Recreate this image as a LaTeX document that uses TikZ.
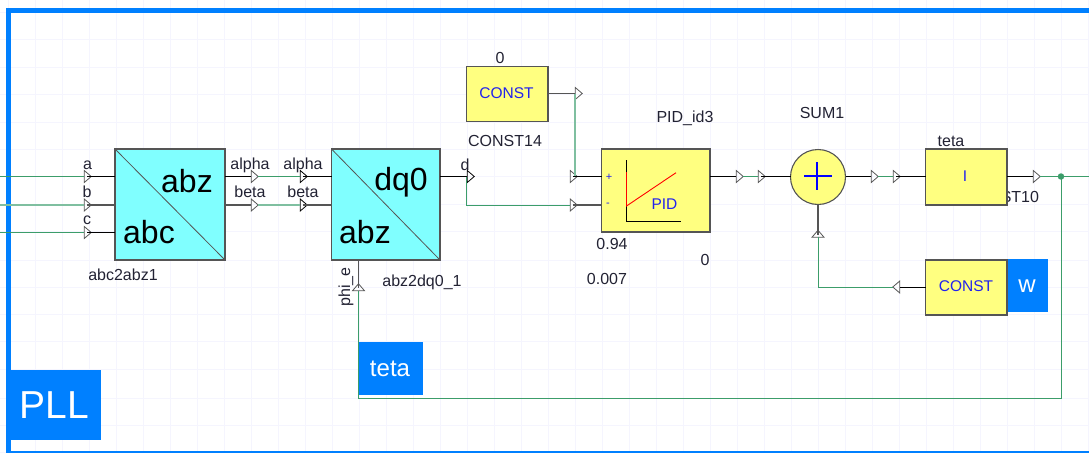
\documentclass[tikz,border=0pt]{standalone}
\usepackage{fontspec}
\setmainfont{Liberation Sans}
\usetikzlibrary{shapes.geometric,calc}
\definecolor{gridc}{HTML}{F5F5FE}
\definecolor{framec}{HTML}{0080FF}
\definecolor{cyanb}{HTML}{80FFFF}
\definecolor{yellowb}{HTML}{FFFF80}
\definecolor{greenw}{HTML}{3C9D6A}
\definecolor{paleg}{HTML}{7FBFA0}
\definecolor{edgec}{HTML}{555555}
\definecolor{inkc}{HTML}{222233}
\definecolor{blueink}{HTML}{2222EE}
\newcommand{\fs}[1]{\fontsize{#1}{#1}\selectfont}
\tikzset{
  every node/.style={inner sep=0pt,outer sep=0pt},
  blockc/.style={draw=edgec,line width=1.1pt,fill=cyanb,anchor=north west},
  blocky/.style={draw=edgec,line width=1.1pt,fill=yellowb,anchor=north west},
  flag/.style={fill=framec,text=white,anchor=north west},
  lbl/.style={text=inkc,font=\fs{16}},
  big/.style={text=black,font=\fs{32}},
  bluetxt/.style={text=blueink,font=\fs{15.5}},
  port/.style={isosceles triangle,isosceles triangle stretches,minimum width=12pt,minimum height=7pt,draw=#1,line width=0.8pt,shape border rotate=0},
  port/.default=edgec,
  portl/.style={port,shape border rotate=180},
  portu/.style={port,shape border rotate=90},
  bw/.style={draw=black,line width=0.9pt},
  gw/.style={draw=greenw,line width=1pt},
  dw/.style={draw=edgec,line width=1.1pt},
  pw/.style={draw=paleg,line width=1.2pt},
  gridl/.style={draw=gridc,line width=0.8pt},
}
\begin{document}
\begin{tikzpicture}[x=1pt,y=-1pt]
\useasboundingbox (0,0) rectangle (1089,453);
% background grid
\foreach \k in {0,...,40} {\draw[gridl] ({8+27*\k},0) -- ({8+27*\k},453);}
\foreach \v in {12,39,67,94,122,149,176,204,231,260,287,314,341,369,398,425,452} {\draw[gridl] (0,\v) -- (1089,\v);}
% frame
\fill[framec] (6,8) rectangle (1089,13);
\fill[framec] (6,8) rectangle (11,453);
\fill[framec] (6,451) rectangle (1089,453);

% free ends
\coordinate (ina) at (0,176.5);
\coordinate (inb) at (0,205);
\coordinate (inc) at (0,232.5);
\coordinate (outr) at (1089,176.5);
\coordinate (fbcorner) at (1061,398);
\coordinate (fbcorner2) at (358.5,398);

% hidden-behind label
\node[lbl,anchor=east] (st10) at (1039,197) {ST10};

% blocks
\node[blockc,minimum width=110pt,minimum height=111pt] (abc) at (115,149) {};
\draw[edgec,line width=0.8pt] (abc.north west) -- (abc.south east);
\node[big] (abcA) at (187,181) {abz};
\node[big] (abcB) at (149,232) {abc};

\node[blockc,minimum width=108.5pt,minimum height=111pt] (dq) at (331.5,149) {};
\draw[edgec,line width=0.8pt] (dq.north west) -- (dq.south east);
\node[big] (dqA) at (401,182) {dq0};
\node[big] (dqB) at (365,232) {abz};

\node[blocky,minimum width=81.5pt,minimum height=55pt] (cst) at (466.5,66.5) {};
\node[bluetxt] (cstT) at (506.5,93) {CONST};

\node[blocky,minimum width=108.5pt,minimum height=83pt] (pid) at (601.5,149) {};
\coordinate (pidO) at (626.5,221.5);
\coordinate (pidY) at (626.5,160);
\coordinate (pidX) at (680.7,221.5);
\coordinate (pidR1) at (626.5,172);
\coordinate (pidR2) at (626.5,206);
\coordinate (pidR3) at (676,172.7);
\draw[black,line width=0.9pt] (pidY) -- (pidO) -- (pidX);
\draw[red,line width=0.9pt] (pidR1) -- (pidR2) -- (pidR3);
\node[bluetxt] (pidT) at (664.5,204) {PID};
\node[text=blueink,font=\fs{11}] (pidP) at (609,177) {+};
\node[text=blueink,font=\fs{11}] (pidM) at (608,205) {-};

\node[circle,draw=edgec,line width=1.1pt,fill=yellowb,minimum size=55pt] (sum) at (818,177) {};
\coordinate (sumL) at (804,176);
\coordinate (sumR) at (832,176);
\coordinate (sumT) at (817,162);
\coordinate (sumB) at (817,190);
\draw[blue,line width=1.5pt] (sumL) -- (sumR) (sumT) -- (sumB);

\node[blocky,minimum width=81.5pt,minimum height=56pt] (int) at (925.5,149) {};
\node[bluetxt] (intT) at (965,176.5) {I};

\node[flag,minimum width=41pt,minimum height=53pt] (wflag) at (1007,259) {};
\node[text=white,font=\fs{24}] (wT) at (1027,286) {w};
\node[blocky,minimum width=81.5pt,minimum height=55pt] (cw) at (925.5,260) {};
\node[bluetxt] (cwT) at (966,286) {CONST};

% ports
\node[port] (pa) at (87,176.5) {};
\node[port] (pb) at (87,205) {};
\node[port] (pc) at (87,232.5) {};
\node[port] (pao) at (254,176.5) {};
\node[port] (pbo) at (254,205) {};
\node[port=black] (pai) at (303,176.5) {};
\node[port=black] (pbi) at (303,205) {};
\node[port=black] (pd) at (470,176.5) {};
\node[port] (pco) at (578,93.5) {};
\node[port] (ppl) at (573,176.5) {};
\node[port] (pmi) at (573,205) {};
\node[port] (pido) at (739,176.5) {};
\node[port] (sumi) at (761,176.5) {};
\node[port] (sumo) at (874,176.5) {};
\node[port] (inti) at (896,176.5) {};
\node[port] (into) at (1036,176.5) {};
\node[portl] (cwo) at (897,287) {};
\node[portu] (sumu) at (818,234.5) {};
\node[portu=black] (phi) at (358.5,288) {};
\node[circle,fill=greenw,minimum size=6.5pt] (dot) at (1061,176.5) {};
\coordinate (fdrop) at (466.5,205);
\coordinate (cdrop) at (575,176.5);
\coordinate (cwc) at (818,287);

% wires
\draw[gw] (ina) -- (pa.west);
\draw[pw] (inb) -- (pb.west);
\draw[gw] (inc) -- (pc.west);
\draw[bw] (pa.center) -- (abc.west |- pa);
\draw[dw] (pb.center) -- (abc.west |- pb);
\draw[bw] (pc.center) -- (abc.west |- pc);
\draw[bw] (abc.east |- pao) -- (pao.west);
\draw[gw] (pao.east) -- (pai.west);
\draw[bw] (pai.center) -- (dq.west |- pai);
\draw[dw] (abc.east |- pbo) -- (pbo.west);
\draw[pw] (pbo.east) -- (pbi.west);
\draw[dw] (pbi.center) -- (dq.west |- pbi);
\draw[bw] (dq.east |- pd) -- (pd.west);
\draw[gw] (pd.center -| fdrop) -- (fdrop) -- (fdrop -| pmi.west);
\draw[dw] (pmi.center) -- (pid.west |- pmi);
\draw[dw] (cst.east |- pco) -- (pco.west);
\draw[pw] (pco.center -| cdrop) -- (cdrop);
\draw[bw] (ppl.center) -- (pid.west |- ppl);
\draw[bw] (pid.east |- pido) -- (pido.west);
\draw[gw] (pido.east) -- (sumi.west);
\draw[bw] (sumi.center) -- (sum.west |- sumi);
\draw[bw] (sum.east |- sumo) -- (sumo.west);
\draw[gw] (sumo.east) -- (inti.west);
\draw[bw] (inti.center) -- (int.west |- inti);
\draw[bw] (int.east |- into) -- (into.west);
\draw[gw] (into.east) -- (outr);
\draw[gw] (dot.center) -- (fbcorner) -- (fbcorner2) -- (fbcorner2 |- phi.south);
\draw[dw] (phi.center) -- (dq.south -| phi);
\draw[bw] (cw.west |- cwo) -- (cwo.east);
\draw[gw] (cwo.west) -- (cwc) -- (cwc |- sumu.south);
\draw[dw] (sumu.center) -- (sum.south);

% flags on top
\node[flag,minimum width=94pt,minimum height=70pt] (pllF) at (7,370) {};
\node[text=white,font=\fs{39}] (pllT) at (54.5,405) {PLL};
\node[flag,minimum width=64pt,minimum height=53pt] (tetaF) at (359,342) {};
\node[text=white,font=\fs{24}] (tetaT) at (390,369) {teta};

% labels
\node[lbl] (la) at (87.5,165) {a};
\node[lbl] (lb) at (87,192) {b};
\node[lbl] (lc) at (87,220) {c};
\node[lbl] (la1) at (250,165) {alpha};
\node[lbl] (la2) at (303,165) {alpha};
\node[lbl] (lb1) at (250,192) {beta};
\node[lbl] (lb2) at (303,192) {beta};
\node[lbl] (nabc) at (123,275) {abc2abz1};
\node[lbl] (ld) at (465,165) {d};
\node[lbl,rotate=90] (lphi) at (346,287) {phi\_e};
\node[lbl] (ndq) at (422,282) {abz2dq0\_1};
\node[lbl] (v0) at (500,58) {0};
\node[lbl] (ncst) at (505,141) {CONST14};
\node[lbl] (npid) at (685,118) {PID\_id3};
\node[lbl] (v94) at (612,244) {0.94};
\node[lbl] (v00) at (705,260) {0};
\node[lbl] (v007) at (607,279) {0.007};
\node[lbl] (nsum) at (822,113) {SUM1};
\node[lbl] (nteta) at (951,141) {teta};
\end{tikzpicture}
\end{document}
